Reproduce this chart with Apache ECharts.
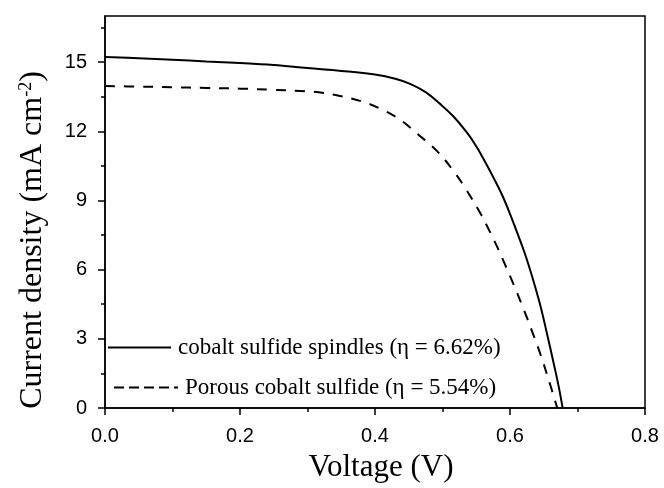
<!DOCTYPE html>
<html>
<head>
<meta charset="utf-8">
<script src="https://cdn.jsdelivr.net/npm/echarts@6/dist/echarts.min.js"></script>
<style>
  html, body { margin: 0; padding: 0; background: #fff; }
  #chart { width: 664px; height: 488px; }
</style>
</head>
<body>
<div id="chart"></div>
<script>
// J-V curves
const spindleName = 'cobalt sulfide spindles (\u03b7 = 6.62%)';
const porousName = 'Porous cobalt sulfide (\u03b7 = 5.54%)';

const spindleV = [0, 0.05, 0.1, 0.15, 0.2, 0.25, 0.3, 0.35, 0.4, 0.43, 0.452, 0.475, 0.496, 0.516, 0.536, 0.55, 0.56, 0.578, 0.59, 0.602, 0.612, 0.622, 0.633, 0.644, 0.655, 0.665, 0.672, 0.678];
const spindleJ = [15.22, 15.17, 15.1, 15.03, 14.96, 14.87, 14.74, 14.62, 14.46, 14.28, 14.06, 13.7, 13.2, 12.65, 11.95, 11.35, 10.84, 9.85, 9.13, 8.27, 7.5, 6.7, 5.68, 4.55, 3.2, 1.9, 0.95, 0];

const porousV = [0, 0.05, 0.1, 0.15, 0.2, 0.25, 0.289, 0.319, 0.348, 0.38, 0.407, 0.435, 0.462, 0.492, 0.516, 0.536, 0.554, 0.565, 0.58, 0.593, 0.605, 0.62, 0.632, 0.644, 0.657, 0.67];
const porousJ = [13.96, 13.94, 13.91, 13.88, 13.85, 13.8, 13.75, 13.68, 13.53, 13.3, 12.99, 12.55, 11.91, 11.14, 10.29, 9.43, 8.55, 7.95, 7.05, 6.2, 5.38, 4.3, 3.38, 2.42, 1.25, 0];

const yMajor = [0, 3, 6, 9, 12, 15];
const yMinor = [1.5, 4.5, 7.5, 10.5, 13.5, 16.5];

const chart = echarts.init(document.getElementById('chart'));

const pairs = (xs, ys) => xs.map((x, i) => [x, ys[i]]);

const legendText = { fontFamily: 'Liberation Serif', fontSize: 23, color: '#000', padding: [0, 0, 0, 2] };
const noSymbol = { color: 'transparent', borderColor: 'transparent', borderWidth: 0 };

chart.setOption({
  animation: false,
  grid: {
    left: 105,
    right: 19,
    top: 16,
    bottom: 75,
    show: true,
    borderColor: '#000',
    borderWidth: 1.5
  },
  legend: [
    {
      data: [spindleName],
      left: 107,
      top: 336,
      padding: 0,
      itemWidth: 63,
      itemHeight: 24,
      itemStyle: noSymbol,
      textStyle: legendText
    },
    {
      data: [porousName],
      left: 113,
      top: 376,
      padding: 0,
      itemWidth: 64,
      itemHeight: 24,
      itemStyle: noSymbol,
      lineStyle: { type: [10, 5] },
      textStyle: legendText
    }
  ],
  xAxis: {
    type: 'value',
    min: 0,
    max: 0.8,
    interval: 0.2,
    name: 'Voltage (V)',
    nameLocation: 'middle',
    nameGap: 44,
    nameTextStyle: { fontFamily: 'Liberation Serif', fontSize: 31, color: '#000', padding: [0, 0, 0, 12] },
    axisLine: { lineStyle: { color: '#000', width: 1.5 } },
    axisTick: { length: 7, lineStyle: { color: '#000', width: 1.5 } },
    minorTick: { show: true, splitNumber: 2, length: 4, lineStyle: { color: '#000', width: 1.5 } },
    axisLabel: {
      margin: 18,
      fontFamily: 'Liberation Sans',
      fontSize: 20,
      color: '#000',
      formatter: v => v.toFixed(1)
    },
    splitLine: { show: false }
  },
  yAxis: [
    {
      type: 'value',
      min: 0,
      max: 17,
      interval: 3,
      name: 'Current density (mA cm{sup|-2})',
      nameLocation: 'middle',
      nameGap: 56,
      nameTextStyle: {
        fontFamily: 'Liberation Serif',
        fontSize: 32,
        color: '#000',
        padding: [0, 56, 0, 0],
        rich: {
          sup: { fontFamily: 'Liberation Serif', fontSize: 18, color: '#000', verticalAlign: 'top', padding: [0, 0, 14, 0] }
        }
      },
      axisLine: { lineStyle: { color: '#000', width: 1.5 } },
      axisTick: { length: 7, customValues: yMajor, lineStyle: { color: '#000', width: 1.5 } },
      axisLabel: {
        margin: 18,
        customValues: yMajor,
        fontFamily: 'Liberation Sans',
        fontSize: 20,
        color: '#000'
      },
      splitLine: { show: false }
    },
    {
      type: 'value',
      min: 0,
      max: 17,
      position: 'left',
      axisLine: { show: false },
      axisTick: { length: 4, customValues: yMinor, lineStyle: { color: '#000', width: 1.5 } },
      axisLabel: { show: false },
      splitLine: { show: false }
    }
  ],
  series: [
    {
      name: spindleName,
      type: 'line',
      data: pairs(spindleV, spindleJ),
      smooth: 0.4,
      symbol: 'none',
      itemStyle: { color: '#000' },
      lineStyle: { color: '#000', width: 2 }
    },
    {
      name: porousName,
      type: 'line',
      data: pairs(porousV, porousJ),
      smooth: 0.4,
      symbol: 'none',
      itemStyle: { color: '#000' },
      lineStyle: { color: '#000', width: 2, type: [10, 9] }
    }
  ]
});
</script>
</body>
</html>
